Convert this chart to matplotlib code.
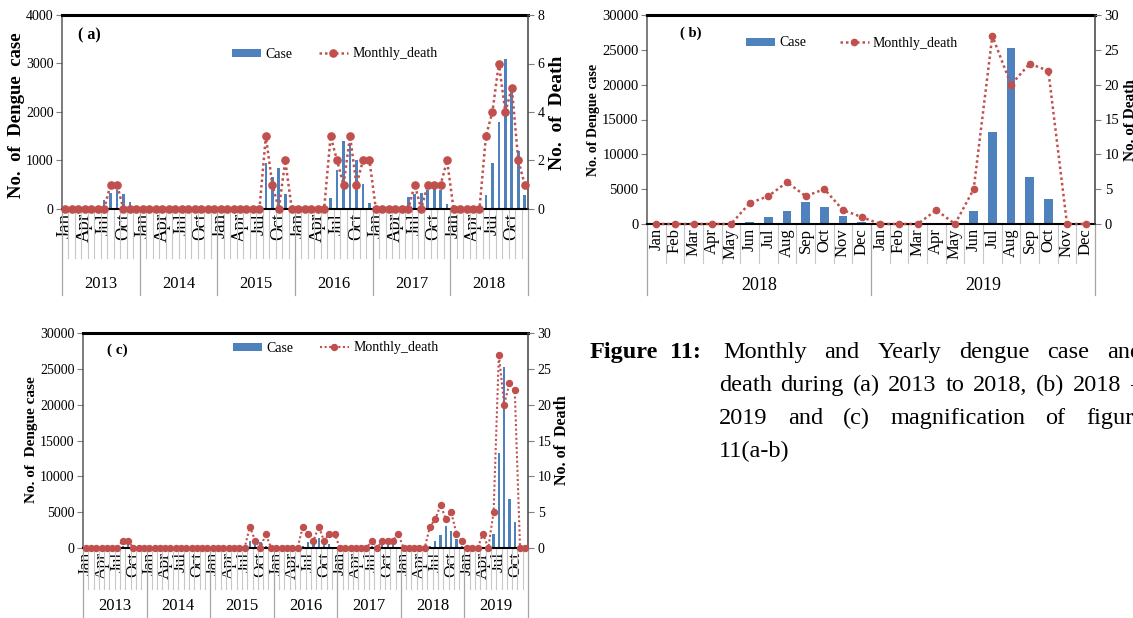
import numpy as np
import matplotlib
matplotlib.use('Agg')
import matplotlib.pyplot as plt
from matplotlib.transforms import blended_transform_factory

plt.rcParams['font.family'] = ['Liberation Serif', 'DejaVu Serif']

# ---------------- data ----------------
months = ['Jan', 'Feb', 'Mar', 'Apr', 'May', 'Jun', 'Jul', 'Aug', 'Sep', 'Oct', 'Nov', 'Dec']
years_a = ['2013', '2014', '2015', '2016', '2017', '2018']
years_b = ['2018', '2019']
years_c = ['2013', '2014', '2015', '2016', '2017', '2018', '2019']

case_2013 = [0, 0, 0, 0, 0, 40, 185, 330, 400, 300, 150, 30]
case_2014 = [0, 0, 0, 0, 0, 0, 20, 40, 50, 40, 20, 10]
case_2015 = [0, 0, 0, 0, 0, 0, 60, 940, 665, 840, 310, 60]
case_2016 = [0, 0, 0, 0, 30, 233, 810, 1407, 1357, 1010, 515, 130]
case_2017 = [0, 0, 0, 0, 50, 240, 300, 330, 390, 420, 390, 110]
case_2018 = [26, 7, 19, 29, 52, 295, 946, 1796, 3087, 2406, 1192, 293]
case_2019 = [38, 18, 17, 58, 193, 1884, 13250, 25200, 6800, 3600, 0, 0]

death_2013 = [0, 0, 0, 0, 0, 0, 0, 1, 1, 0, 0, 0]
death_2014 = [0, 0, 0, 0, 0, 0, 0, 0, 0, 0, 0, 0]
death_2015 = [0, 0, 0, 0, 0, 0, 0, 3, 1, 0, 2, 0]
death_2016 = [0, 0, 0, 0, 0, 3, 2, 1, 3, 1, 2, 2]
death_2017 = [0, 0, 0, 0, 0, 0, 1, 0, 1, 1, 1, 2]
death_2018 = [0, 0, 0, 0, 0, 3, 4, 6, 4, 5, 2, 1]
death_2019 = [0, 0, 0, 2, 0, 5, 27, 20, 23, 22, 0, 0]

BLUE = '#4F81BD'
RED = '#C0504D'

W, H = 1133, 618
fig = plt.figure(figsize=(W / 100, H / 100), dpi=100)


def fx(px):
    return px / W


def fy(py):
    return 1 - py / H


def draw_panel(box, cases, deaths, years, every, cmax, cstep, dmax, dstep,
               bar_w, ms, lw, tick_fs, month_fs, year_fs,
               month_len, year_len, year_off, leg_pos, leg_fs, colsp=1.9):
    x0, y0, x1, y1 = box
    ax = fig.add_axes([fx(x0), fy(y1), (x1 - x0) / W, (y1 - y0) / H])
    ah = float(y1 - y0)
    n = len(cases)
    x = np.arange(n)
    bars = ax.bar(x, cases, width=bar_w, color=BLUE, zorder=2)
    ax.set_xlim(-0.5, n - 0.5)
    ax.set_ylim(0, cmax)
    ax.set_yticks(np.arange(0, cmax + 1, cstep))

    ax2 = ax.twinx()
    line, = ax2.plot(x, deaths, ls=(0, (1, 1.2)), lw=lw, color=RED, marker='o',
                     ms=ms, mfc=RED, mec=RED, clip_on=False, zorder=3)
    ax2.set_ylim(0, dmax)
    ax2.set_yticks(np.arange(0, dmax + 1, dstep))

    # spines
    for s in ['top', 'left', 'bottom']:
        ax2.spines[s].set_visible(False)
    ax.spines['right'].set_visible(False)
    ax.spines['top'].set_linewidth(2.2)
    ax.spines['top'].set_color('black')
    ax.spines['bottom'].set_linewidth(1.5)
    ax.spines['bottom'].set_color('black')
    ax.spines['left'].set_color('#595959')
    ax.spines['left'].set_linewidth(1.1)
    ax2.spines['right'].set_color('#404040')
    ax2.spines['right'].set_linewidth(1.1)

    ax.tick_params(axis='y', direction='out', length=4, width=0.8, color='#7f7f7f',
                   labelsize=tick_fs, pad=2)
    ax2.tick_params(axis='y', direction='out', length=4, width=0.8, color='#7f7f7f',
                    labelsize=tick_fs, pad=3)

    # month labels
    ticks = x[::every]
    ax.set_xticks(ticks)
    ax.set_xticklabels([months[i % 12] for i in ticks], rotation=90, fontsize=month_fs)
    ax.tick_params(axis='x', length=0, pad=3)

    # separators under the axis (Excel multi level category axis)
    tr = blended_transform_factory(ax.transData, ax.transAxes)
    for i in range(n + 1):
        if i % 12 == 0:
            ax.plot([i - 0.5, i - 0.5], [0, -year_len / ah], transform=tr,
                    clip_on=False, color='#a6a6a6', lw=0.9)
        else:
            ax.plot([i - 0.5, i - 0.5], [0, -month_len / ah], transform=tr,
                    clip_on=False, color='#c8c8c8', lw=0.8)
    for j, yr in enumerate(years):
        ax.text(12 * j + 5.5, -year_off / ah, yr, transform=tr, ha='center',
                va='center', fontsize=year_fs)

    # legend
    lx = (leg_pos[0] - x0) / (x1 - x0)
    ly = 1 - (leg_pos[1] - y0) / ah
    ax2.legend([bars, line], ['Case', 'Monthly_death'], ncol=2, frameon=False,
               loc='center left', bbox_to_anchor=(lx, ly), borderpad=0,
               borderaxespad=0, handlelength=2.1, handleheight=0.5,
               handletextpad=0.3, columnspacing=colsp, fontsize=leg_fs)
    return ax, ax2


cases_a = case_2013 + case_2014 + case_2015 + case_2016 + case_2017 + case_2018
deaths_a = death_2013 + death_2014 + death_2015 + death_2016 + death_2017 + death_2018
cases_b = case_2018 + case_2019
deaths_b = death_2018 + death_2019
cases_c = cases_a + case_2019
deaths_c = deaths_a + death_2019

#############(a)##################
draw_panel((62, 15, 528, 209), cases_a, deaths_a, years_a, 3, 4000, 1000, 8, 2,
           0.42, 5.2, 1.8, 10, 13.5, 12, 49, 86, 75, (232, 54), 10)
#############(b)##################
draw_panel((647, 15, 1095, 224), cases_b, deaths_b, years_b, 1, 30000, 5000, 30, 5,
           0.45, 4.5, 1.8, 10.5, 12, 13, 39, 71, 61, (746, 43), 10, colsp=2.4)
#############(c)##################
draw_panel((83, 333, 528, 548), cases_c, deaths_c, years_c, 3, 30000, 5000, 30, 5,
           0.42, 4.3, 1.5, 10, 12.5, 12, 41, 70, 58, (233, 348), 10)

# panel tags and axis titles
fig.text(fx(89), fy(35), '( a)', fontsize=11.5, fontweight='bold', ha='center', va='center')
fig.text(fx(691), fy(33), '( b)', fontsize=10.5, fontweight='bold', ha='center', va='center')
fig.text(fx(117), fy(350), '( c)', fontsize=11, fontweight='bold', ha='center', va='center')

fig.text(fx(17), fy(115), 'No.  of  Dengue  case', rotation=90, fontsize=13.5,
         fontweight='bold', ha='center', va='center')
fig.text(fx(558), fy(113), 'No.  of  Death', rotation=90, fontsize=14,
         fontweight='bold', ha='center', va='center')
fig.text(fx(593), fy(120), 'No. of Dengue case', rotation=90, fontsize=10,
         fontweight='bold', ha='center', va='center')
fig.text(fx(1131), fy(120), 'No. of Death', rotation=90, fontsize=11,
         fontweight='bold', ha='center', va='center')
fig.text(fx(32), fy(440), 'No. of  Dengue case', rotation=90, fontsize=11,
         fontweight='bold', ha='center', va='center')
fig.text(fx(562), fy(440), 'No. of  Death', rotation=90, fontsize=11.5,
         fontweight='bold', ha='center', va='center')

# caption, justified like the paper text
CAP_FS = 17.5


def justify(words, y, left, right):
    r = fig.canvas.get_renderer()
    items = [fig.text(0, fy(y), w, fontsize=CAP_FS, ha='left', va='baseline') for w in words]
    widths = [t.get_window_extent(r).width for t in items]
    gap = (right - left - sum(widths)) / (len(words) - 1)
    pos = left
    for t, wd in zip(items, widths):
        t.set_x(fx(pos))
        pos += wd + gap


fig.text(fx(590), fy(358), 'Figure', fontsize=CAP_FS, fontweight='bold', va='baseline')
fig.text(fx(670), fy(358), '11:', fontsize=CAP_FS, fontweight='bold', va='baseline')
justify(['Monthly', 'and', 'Yearly', 'dengue', 'case', 'and'], 358, 723, 1142)
justify(['death', 'during', '(a)', '2013', 'to', '2018,', '(b)', '2018', '\u2013'], 391, 719, 1142)
justify(['2019', 'and', '(c)', 'magnification', 'of', 'figure'], 424, 719, 1144)
fig.text(fx(719), fy(457), '11(a-b)', fontsize=CAP_FS, va='baseline')

fig.savefig('out.png', dpi=100)
